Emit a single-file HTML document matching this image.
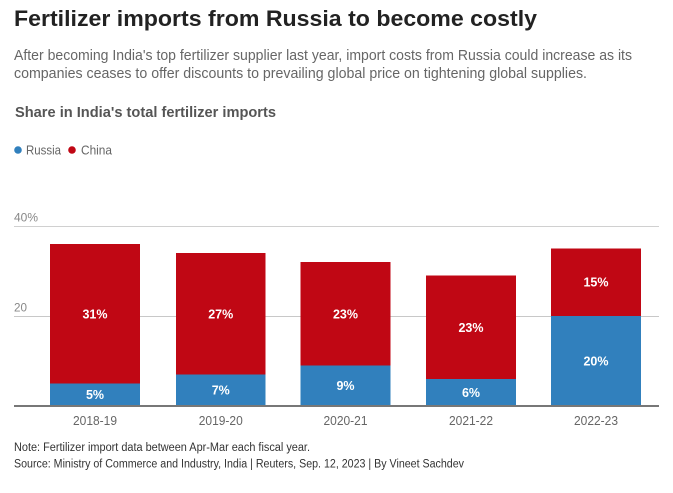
<!DOCTYPE html>
<html><head><meta charset="utf-8"><style>
html,body{margin:0;padding:0;background:#fff;}
svg{display:block;}
text{font-family:"Liberation Sans",sans-serif;}
</style></head><body>
<svg width="673" height="493" viewBox="0 0 673 493" xmlns="http://www.w3.org/2000/svg">
<rect width="673" height="493" fill="#fff"/>
<text x="14" y="26" font-size="22" font-weight="bold" fill="#222" textLength="523" lengthAdjust="spacingAndGlyphs">Fertilizer imports from Russia to become costly</text>
<text x="14" y="60" font-size="15" fill="#666" textLength="618" lengthAdjust="spacingAndGlyphs">After becoming India's top fertilizer supplier last year, import costs from Russia could increase as its</text>
<text x="14" y="78" font-size="15" fill="#666" textLength="573" lengthAdjust="spacingAndGlyphs">companies ceases to offer discounts to prevailing global price on tightening global supplies.</text>
<text x="15" y="117" font-size="15" font-weight="bold" fill="#555" textLength="261" lengthAdjust="spacingAndGlyphs">Share in India's total fertilizer imports</text>
<circle cx="18" cy="150" r="3.8" fill="#3180bd"/>
<text x="26" y="154.5" font-size="12.5" fill="#666" textLength="35" lengthAdjust="spacingAndGlyphs">Russia</text>
<circle cx="72" cy="150" r="3.8" fill="#c00714"/>
<text x="81" y="154.5" font-size="12.5" fill="#666" textLength="31" lengthAdjust="spacingAndGlyphs">China</text>

<line x1="14" y1="226.5" x2="659" y2="226.5" stroke="#d0d0d0" stroke-width="1"/>
<line x1="14" y1="316.5" x2="659" y2="316.5" stroke="#c8c8c8" stroke-width="1"/>
<text x="14" y="221.5" font-size="12" fill="#888" textLength="24" lengthAdjust="spacingAndGlyphs">40%</text>
<text x="14" y="311.5" font-size="12" fill="#888" textLength="13" lengthAdjust="spacingAndGlyphs">20</text>

<!-- bars -->
<g>
<rect x="50" y="244" width="90" height="139.5" fill="#c00714"/>
<rect x="50" y="383.5" width="90" height="22.5" fill="#3180bd"/>
<rect x="176" y="253" width="89.5" height="121.5" fill="#c00714"/>
<rect x="176" y="374.5" width="89.5" height="31.5" fill="#3180bd"/>
<rect x="300.5" y="262" width="90" height="103.5" fill="#c00714"/>
<rect x="300.5" y="365.5" width="90" height="40.5" fill="#3180bd"/>
<rect x="426" y="275.5" width="90" height="103.5" fill="#c00714"/>
<rect x="426" y="379" width="90" height="27" fill="#3180bd"/>
<rect x="551" y="248.5" width="90" height="67.5" fill="#c00714"/>
<rect x="551" y="316" width="90" height="90" fill="#3180bd"/>
</g>
<line x1="550" y1="316.5" x2="642" y2="316.5" stroke="#c8c8c8" stroke-width="0" />

<g font-size="12.5" font-weight="bold" fill="#fff" text-anchor="middle">
<text x="95" y="318.5">31%</text>
<text x="95" y="399">5%</text>
<text x="220.75" y="318.5">27%</text>
<text x="220.75" y="394.5">7%</text>
<text x="345.5" y="318.5">23%</text>
<text x="345.5" y="390">9%</text>
<text x="471" y="332">23%</text>
<text x="471" y="397">6%</text>
<text x="596" y="286.5">15%</text>
<text x="596" y="365.5">20%</text>
</g>

<line x1="14" y1="406" x2="659" y2="406" stroke="#777" stroke-width="2"/>

<g font-size="12.5" fill="#666" text-anchor="middle">
<text x="95" y="425" textLength="44" lengthAdjust="spacingAndGlyphs">2018-19</text>
<text x="220.75" y="425" textLength="44" lengthAdjust="spacingAndGlyphs">2019-20</text>
<text x="345.5" y="425" textLength="44" lengthAdjust="spacingAndGlyphs">2020-21</text>
<text x="471" y="425" textLength="44" lengthAdjust="spacingAndGlyphs">2021-22</text>
<text x="596" y="425" textLength="44" lengthAdjust="spacingAndGlyphs">2022-23</text>
</g>

<text x="14" y="451" font-size="11.5" fill="#333" textLength="296" lengthAdjust="spacingAndGlyphs">Note: Fertilizer import data between Apr-Mar each fiscal year.</text>
<text x="14" y="467.5" font-size="11.5" fill="#333" textLength="450" lengthAdjust="spacingAndGlyphs">Source: Ministry of Commerce and Industry, India | Reuters, Sep. 12, 2023 | By Vineet Sachdev</text>
</svg>
</body></html>
